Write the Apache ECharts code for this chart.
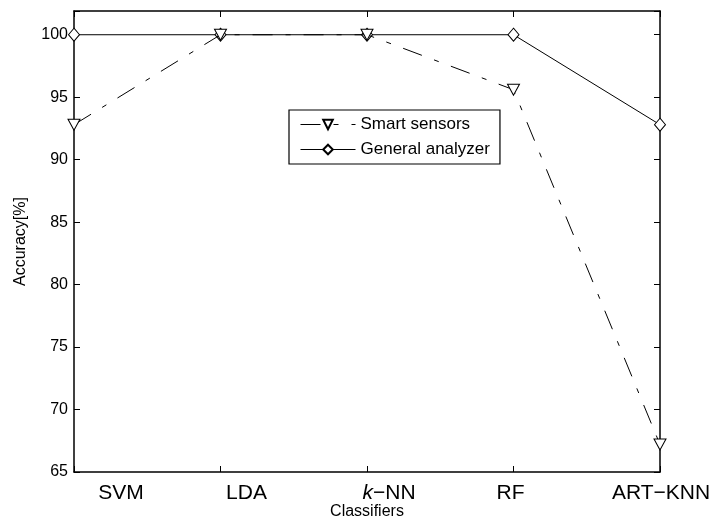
<!DOCTYPE html>
<html>
<head>
<meta charset="utf-8">
<script src="https://cdn.jsdelivr.net/npm/echarts@6/dist/echarts.min.js"></script>
<style>html,body{margin:0;padding:0;background:#fff}#c{width:716px;height:518px}</style>
</head>
<body>
<div id="c"></div>
<script>
var categories = ['SVM', 'LDA', 'k-NN', 'RF', 'ART\u2212KNN'];
var smartSensors = [92.8, 100, 100, 95.6, 67.2];
var generalAnalyzer = [100, 100, 100, 100, 92.8];
var yTicks = [65, 70, 75, 80, 85, 90, 95, 100];

var labelOffsets = [47, 26, 22, -3, 1];
var FONT = '"Liberation Sans", Arial, Helvetica, sans-serif';

var rich = {
  t: {fontSize: 21, fontFamily: FONT, color: '#000'},
  i: {fontSize: 21, fontFamily: FONT, color: '#000', fontStyle: 'italic'}
};
labelOffsets.forEach(function (o, k) {
  rich['sp' + k] = {width: Math.abs(o) * 2, fontSize: 21};
});

function catLabel(v, idx) {
  var txt;
  if (v === 'k-NN') txt = '{i|k}{t|\u2212NN}';
  else txt = '{t|' + v + '}';
  var o = labelOffsets[idx];
  var sp = '{sp' + idx + '| }';
  return o >= 0 ? sp + txt : txt + sp;
}

var chart = echarts.init(document.getElementById('c'), null, {renderer: 'canvas'});
var axisLine = {show: true, lineStyle: {color: '#000', width: 1.5}};
chart.setOption({
  animation: false,
  backgroundColor: '#fff',
  textStyle: {fontFamily: FONT},
  grid: {left: 74, right: 56, top: 11, bottom: 46, containLabel: false, outerBoundsMode: 'none'},
  legend: {
    left: 289, top: 110,
    orient: 'vertical',
    backgroundColor: '#fff',
    borderColor: '#000', borderWidth: 1.2,
    padding: [6, 10, 6, 11],
    itemWidth: 55, itemHeight: 12, itemGap: 8,
    lineStyle: {width: 1},
    textStyle: {fontSize: 17, fontFamily: FONT, color: '#000'},
    data: ['Smart sensors', 'General analyzer']
  },
  xAxis: [{
    type: 'category', data: categories, boundaryGap: false, position: 'bottom',
    axisLine: axisLine,
    axisTick: {show: true, inside: true, length: 6, lineStyle: {color: '#000'}},
    axisLabel: {margin: 11, formatter: catLabel, rich: rich, interval: 0},
    splitLine: {show: false},
    name: 'Classifiers', nameLocation: 'middle', nameGap: 32, nameMoveOverlap: false,
    nameTextStyle: {fontSize: 16, fontFamily: FONT, color: '#000'}
  }, {
    type: 'category', data: categories, boundaryGap: false, position: 'top',
    axisLine: axisLine,
    axisTick: {show: true, inside: true, length: 6, lineStyle: {color: '#000'}},
    axisLabel: {show: false}, splitLine: {show: false}
  }],
  yAxis: [{
    type: 'value', min: 65, max: 101.9, interval: 5, position: 'left',
    axisLine: axisLine,
    axisTick: {show: true, inside: true, length: 6, lineStyle: {color: '#000'}},
    axisLabel: {fontSize: 16, fontFamily: FONT, color: '#000', margin: 6,
      formatter: function (v) { return yTicks.indexOf(v) >= 0 ? String(v) : ''; }},
    splitLine: {show: false},
    name: 'Accuracy[%]', nameLocation: 'middle', nameGap: 45, nameRotate: 90,
    nameMoveOverlap: false,
    nameTextStyle: {fontSize: 16, fontFamily: FONT, color: '#000'}
  }, {
    type: 'value', min: 65, max: 101.9, interval: 5, position: 'right',
    axisLine: axisLine,
    axisTick: {show: true, inside: true, length: 6, lineStyle: {color: '#000'}},
    axisLabel: {show: false}, splitLine: {show: false}
  }],
  series: [{
    name: 'Smart sensors', type: 'line', data: smartSensors,
    xAxisIndex: 0, yAxisIndex: 0,
    symbol: 'triangle', symbolRotate: 180, symbolSize: [12, 11],
    itemStyle: {color: '#fff', borderColor: '#000', borderWidth: 1},
    lineStyle: {color: '#000', width: 1, type: [20, 13, 5, 13]},
    z: 3
  }, {
    name: 'General analyzer', type: 'line', data: generalAnalyzer,
    xAxisIndex: 0, yAxisIndex: 0,
    symbol: 'diamond', symbolSize: [11, 13],
    itemStyle: {color: '#fff', borderColor: '#000', borderWidth: 1},
    lineStyle: {color: '#000', width: 1, type: 'solid'},
    z: 2
  }]
});
</script>
</body>
</html>
